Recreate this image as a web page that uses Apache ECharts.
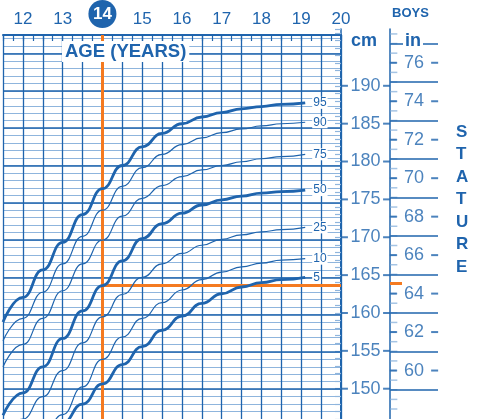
<!DOCTYPE html>
<html>
<head>
<meta charset="utf-8">
<script src="https://cdn.jsdelivr.net/npm/echarts@6/dist/echarts.min.js"></script>
<style>
  html, body { margin: 0; padding: 0; background: #fff; }
  #chart { width: 479px; height: 419px; }
</style>
</head>
<body>
<div id="chart"></div>
<script>
// age in years, stature in cm
const ages = [11.5, 12, 12.5, 13, 13.5, 14, 14.5, 15, 15.5, 16, 16.5, 17, 17.5, 18, 18.5, 19.1]
const p5 = [139, 141.2, 143.3, 145.5, 148, 150.7, 153.3, 155.7, 157.9, 159.8, 161.5, 162.8, 163.7, 164.3, 164.7, 165]
const p10 = [138.5, 141, 143.6, 146.6, 150.3, 154, 157, 159.5, 161.6, 163.3, 164.7, 165.7, 166.4, 166.9, 167.3, 167.5]
const p25 = [143.5, 146, 149, 152.5, 156.2, 159.7, 162.7, 165, 166.8, 168.2, 169.3, 170.1, 170.7, 171.1, 171.4, 171.7]
const p50 = [146.5, 149.5, 153, 156.8, 160.5, 163.9, 167.2, 170.2, 172.2, 173.6, 174.7, 175.4, 175.9, 176.3, 176.5, 176.7]
const p75 = [153, 156, 159.5, 163.2, 166.8, 170, 173.2, 175.6, 177.3, 178.5, 179.4, 180, 180.5, 180.9, 181.2, 181.5]
const p90 = [156.5, 159.5, 163, 166.8, 170.5, 174, 177.2, 179.7, 181.5, 182.8, 183.7, 184.4, 184.9, 185.3, 185.6, 185.8]
const p95 = [159, 162.3, 166, 169.7, 173.4, 176.9, 180, 182.5, 184.3, 185.6, 186.5, 187.1, 187.6, 187.9, 188.2, 188.4]

const ageTicks = [12, 13, 14, 15, 16, 17, 18, 19, 20]
const cmLabels = [150, 155, 160, 165, 170, 175, 180, 185, 190]
const cmHeavy = [150, 155, 160, 165, 170, 175, 180, 185, 190, 195]
const inLabels = [60, 62, 64, 66, 68, 70, 72, 74, 76]
const inLines = [59, 61, 63, 65, 67, 69, 71, 73, 75, 77]
const markedAge = 14
const markedCm = 163.9

const BLUE = '#1f64ad'
const LIGHT = '#8fb5dd'
const ORANGE = '#f47a20'

const chart = echarts.init(document.getElementById('chart'))

const curves = [
  { name: '95', data: p95, bold: true },
  { name: '90', data: p90 },
  { name: '75', data: p75 },
  { name: '50', data: p50, bold: true },
  { name: '25', data: p25 },
  { name: '10', data: p10 },
  { name: '5', data: p5, bold: true }
]

const inTicks = []
for (let v = 58; v <= 77.5; v += 0.5) inTicks.push([0.08, v * 2.54])

const curveSeries = curves.map(c => ({
  name: c.name,
  type: 'line',
  xAxisIndex: 0,
  yAxisIndex: 0,
  smooth: 0.5,
  smoothMonotone: 'x',
  symbol: 'none',
  data: ages.map((a, i) => [a, c.data[i]]),
  lineStyle: { color: BLUE, width: c.bold ? 2.8 : 1.2 },
  endLabel: {
    show: true,
    formatter: '{a}',
    color: BLUE,
    fontSize: 12,
    fontFamily: 'Liberation Sans',
    backgroundColor: '#fff',
    padding: [0, 1],
    distance: 7
  },
  z: 5
}))

const option = {
  animation: false,
  grid: [
    { left: -3, top: 29, width: 344, height: 390 },
    { left: 341, top: 29, width: 49, height: 390 },
    { left: 390, top: 29, width: 48, height: 390 }
  ],
  xAxis: [
    {
      type: 'value', gridIndex: 0, position: 'top', min: 11.5, max: 20, interval: 0.5,
      axisLine: { show: true, lineStyle: { color: BLUE, width: 2 } },
      axisTick: { show: true, inside: true, length: 6, lineStyle: { color: BLUE, width: 1.2 } },
      minorTick: { show: true, splitNumber: 2, length: 6, lineStyle: { color: BLUE, width: 1.2 } },
      splitLine: { show: true, lineStyle: { color: BLUE, width: 1.3 } },
      axisLabel: {
        margin: 7,
        fontSize: 17,
        fontFamily: 'Liberation Sans',
        color: BLUE,
        formatter: v => {
          if (!ageTicks.includes(v)) return ''
          return v === markedAge ? '{c|' + v + '}' : String(v)
        },
        rich: {
          c: {
            color: '#fff', fontSize: 17, fontWeight: 'bold', fontFamily: 'Liberation Sans',
            backgroundColor: BLUE, borderRadius: 14, width: 28, height: 28, align: 'center'
          }
        }
      }
    },
    { type: 'value', gridIndex: 1, min: 0, max: 1, show: false },
    { type: 'value', gridIndex: 2, min: 0, max: 1, show: false }
  ],
  yAxis: [
    {
      type: 'value', gridIndex: 0, position: 'right', min: 146, max: 197.5, interval: 1,
      axisLine: { show: true, lineStyle: { color: BLUE, width: 2 } },
      axisTick: { show: false }, axisLabel: { show: false },
      splitLine: { show: true, lineStyle: { color: LIGHT, width: 1 } }
    },
    {
      type: 'value', gridIndex: 1, position: 'right', min: 146, max: 197.5, interval: 1,
      axisLine: { show: true, lineStyle: { color: BLUE, width: 1.5 } },
      axisTick: { show: true, inside: true, length: 6, lineStyle: { color: LIGHT, width: 1.2 } },
      axisLabel: { show: false }, splitLine: { show: false }
    },
    {
      type: 'value', gridIndex: 2, position: 'right', min: 146, max: 197.5,
      axisLine: { show: true, lineStyle: { color: BLUE, width: 1.5 } },
      axisTick: { show: false }, axisLabel: { show: false }, splitLine: { show: false }
    }
  ],
  series: [
    // heavy 5 cm lines
    {
      type: 'line', xAxisIndex: 0, yAxisIndex: 0, data: [], silent: true,
      markLine: {
        symbol: 'none', silent: true, label: { show: false },
        lineStyle: { color: BLUE, width: 1.6, type: 'solid' },
        data: cmHeavy.map(v => ({ yAxis: v }))
      },
      z: 2
    },
    ...curveSeries,
    // orange guides
    {
      type: 'line', xAxisIndex: 0, yAxisIndex: 0, data: [], silent: true,
      markLine: {
        symbol: 'none', silent: true, label: { show: false },
        lineStyle: { color: ORANGE, width: 3, type: 'solid' },
        data: [
          { xAxis: markedAge },
          [{ coord: [markedAge, markedCm] }, { coord: [20, markedCm] }]
        ]
      },
      z: 8
    },
    // cm column
    {
      type: 'scatter', xAxisIndex: 1, yAxisIndex: 1, symbolSize: 0,
      data: cmLabels.map(v => [0.5, v]),
      label: {
        show: true, position: 'inside', formatter: p => p.value[1],
        fontSize: 18, color: BLUE, fontFamily: 'Liberation Sans',
        backgroundColor: '#fff', padding: [0, 1]
      }
    },
    {
      type: 'scatter', xAxisIndex: 1, yAxisIndex: 1, symbol: 'rect', symbolSize: [7, 2],
      itemStyle: { color: BLUE },
      data: cmLabels.map(v => [0.07, v]).concat(cmLabels.map(v => [0.93, v]))
    },
    // inch column
    {
      type: 'scatter', xAxisIndex: 2, yAxisIndex: 2, symbol: 'rect', symbolSize: [7, 1.5],
      itemStyle: { color: LIGHT }, data: inTicks
    },
    {
      type: 'scatter', xAxisIndex: 2, yAxisIndex: 2, symbolSize: 0,
      data: inLabels.map(v => [0.5, v * 2.54]),
      label: {
        show: true, position: 'inside', formatter: p => Math.round(p.value[1] / 2.54),
        fontSize: 18, color: BLUE, fontFamily: 'Liberation Sans',
        backgroundColor: '#fff', padding: [0, 1]
      },
      markLine: {
        symbol: 'none', silent: true, label: { show: false },
        lineStyle: { color: BLUE, width: 1.5, type: 'solid' },
        data: inLines.map(v => ({ yAxis: v * 2.54 })).concat([
          [{ coord: [0, markedCm], lineStyle: { color: ORANGE, width: 3 } },
           { coord: [0.25, markedCm], lineStyle: { color: ORANGE, width: 3 } }]
        ])
      },
      z: 6
    },
    {
      type: 'scatter', xAxisIndex: 2, yAxisIndex: 2, symbol: 'rect', symbolSize: [7, 2],
      itemStyle: { color: BLUE },
      data: inLabels.map(v => [0.07, v * 2.54]).concat(inLabels.map(v => [0.93, v * 2.54])),
      z: 7
    }
  ],
  graphic: [
    {
      type: 'text', left: 62, top: 41, z: 100,
      style: {
        text: 'AGE (YEARS)', fill: BLUE, fontSize: 18.5, fontWeight: 'bold',
        fontFamily: 'Liberation Sans', backgroundColor: '#fff', padding: [1, 3]
      }
    },
    {
      type: 'text', left: 349, top: 32, z: 100,
      style: { text: 'cm', fill: BLUE, fontSize: 18, fontWeight: 'bold', fontFamily: 'Liberation Sans', backgroundColor: '#fff', padding: [0, 2] }
    },
    {
      type: 'text', left: 403, top: 32, z: 100,
      style: { text: 'in', fill: BLUE, fontSize: 18, fontWeight: 'bold', fontFamily: 'Liberation Sans', backgroundColor: '#fff', padding: [0, 2] }
    },
    {
      type: 'text', left: 392, top: 7, z: 100,
      style: { text: 'BOYS', fill: BLUE, fontSize: 13, fontWeight: 'bold', fontFamily: 'Liberation Sans' }
    },
    {
      type: 'text', left: 456, top: 121, z: 100,
      style: {
        text: 'S\nT\nA\nT\nU\nR\nE', fill: BLUE, fontSize: 17, fontWeight: 'bold',
        fontFamily: 'Liberation Sans', lineHeight: 22.5, align: 'left'
      }
    }
  ]
}

chart.setOption(option)
</script>
</body>
</html>
